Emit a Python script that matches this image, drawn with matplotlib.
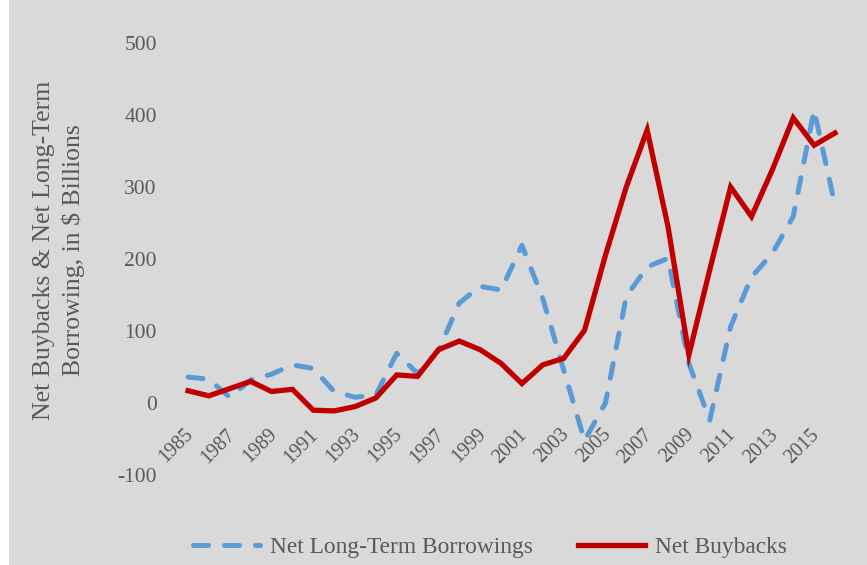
import matplotlib
matplotlib.use("Agg")
import matplotlib.pyplot as plt
from matplotlib.patches import Rectangle
from matplotlib.transforms import ScaledTranslation

years = list(range(1985, 2017))
borrowings = [36, 33, 8, 32, 40, 53, 48, 16, 8, 11, 69, 41, 73, 139, 162, 157,
              219, 145, 46, -52, 0, 148, 189, 201, 55, -24, 106, 175, 208, 259, 407, 275]
buybacks = [17, 10, 20, 30, 16, 19, -10, -11, -5, 7, 39, 37, 74, 86, 74, 55,
            27, 53, 62, 101, 205, 300, 379, 245, 67, 185, 300, 259, 324, 396, 358, 375]
tick_years = list(range(1985, 2016, 2))
yticks = [-100, 0, 100, 200, 300, 400, 500]

BG = "#d9d9d9"
TXT = "#595959"
plt.rcParams['font.family'] = ['Liberation Serif', 'DejaVu Serif']

W, H = 867, 565
fig = plt.figure(figsize=(W / 100, H / 100), dpi=100)
fig.patch.set_facecolor(BG)
fig.patches.append(Rectangle((0, 0), 9 / W, 1, transform=fig.transFigure,
                             facecolor="white", edgecolor="none", zorder=0))

left, right = 177.6 / W, 845.4 / W
bottom, top = 1 - 475 / H, 1 - 43 / H
ax = fig.add_axes([left, bottom, right - left, top - bottom])
ax.set_facecolor(BG)

lb, = ax.plot(years, borrowings, color="#5b9bd5", lw=3.6,
              linestyle=(0, (3, 3.2)), dash_capstyle="round",
              solid_joinstyle="round", label="Net Long-Term Borrowings")
lr, = ax.plot(years, buybacks, color="#c00000", lw=3.8,
              solid_joinstyle="miter", label="Net Buybacks")

ax.set_xlim(1984.5, 2016.5)
ax.set_ylim(-100, 500)
for s in ax.spines.values():
    s.set_visible(False)
ax.spines['bottom'].set_position(('data', 0))
ax.set_yticks(yticks)
ax.set_yticklabels([str(v) for v in yticks])
ax.set_xticks(tick_years)
ax.set_xticklabels([str(y) for y in tick_years], rotation=45, ha="right",
                   va="top", rotation_mode="anchor")
ax.tick_params(axis="y", length=0, pad=15, labelsize=15.5, labelcolor=TXT)
ax.tick_params(axis="x", length=0, pad=16, labelsize=14.5, labelcolor=TXT)
off = ScaledTranslation(-4 / 100, 0, fig.dpi_scale_trans)
for lab in ax.get_xticklabels():
    lab.set_transform(lab.get_transform() + off)

fig.text(59 / W, 1 - 250 / H,
         "Net Buybacks & Net Long-Term\nBorrowing, in $ Billions",
         rotation=90, ha="center", va="center", fontsize=18.5, color=TXT,
         linespacing=1.4)

leg = fig.legend(handles=[lb, lr], loc="center", ncol=2,
                 bbox_to_anchor=(490 / W, 1 - 547 / H), frameon=False,
                 fontsize=16.8, handlelength=2.9, handletextpad=0.43,
                 columnspacing=1.9)
for t in leg.get_texts():
    t.set_color(TXT)

fig.savefig("out.png", dpi=100, facecolor=BG)
